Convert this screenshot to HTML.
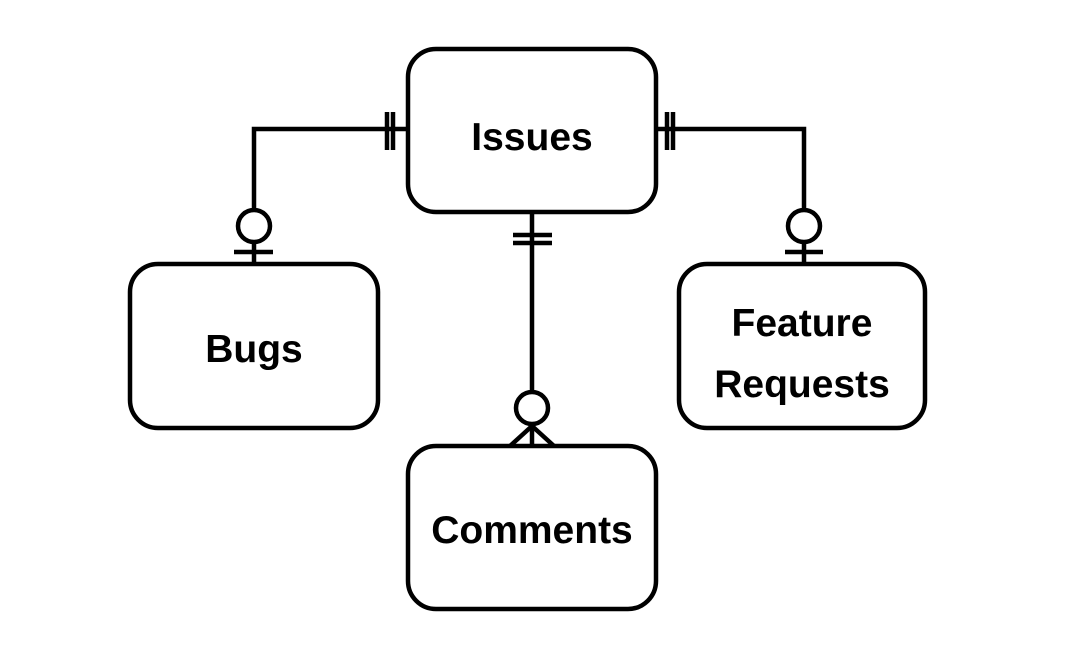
<!DOCTYPE html>
<html><head><meta charset="utf-8"><style>html,body{margin:0;padding:0;background:#fff}svg{display:block}</style></head>
<body>
<svg width="1084" height="667" viewBox="0 0 1084 667" xmlns="http://www.w3.org/2000/svg">
<g fill="none" stroke="#000" stroke-width="4.5">
<rect x="408" y="49" width="248" height="163" rx="28"/>
<rect x="130" y="264" width="248" height="164" rx="28"/>
<rect x="679" y="264" width="246" height="164" rx="28"/>
<rect x="408" y="446" width="248" height="163" rx="28"/>
<polyline points="408,129 254,129 254,209"/>
<line x1="387" y1="112" x2="387" y2="150"/>
<line x1="393" y1="112" x2="393" y2="150"/>
<circle cx="254" cy="226" r="16"/>
<line x1="254" y1="242" x2="254" y2="264"/>
<line x1="234" y1="252" x2="273" y2="252"/>
<polyline points="656,129 804,129 804,209"/>
<line x1="667" y1="112" x2="667" y2="150"/>
<line x1="673" y1="112" x2="673" y2="150"/>
<circle cx="804" cy="226" r="16"/>
<line x1="804" y1="242" x2="804" y2="264"/>
<line x1="785" y1="252" x2="823" y2="252"/>
<line x1="532" y1="212" x2="532" y2="392"/>
<line x1="513" y1="235" x2="552" y2="235"/>
<line x1="513" y1="243" x2="552" y2="243"/>
<circle cx="532" cy="408" r="16"/>
<line x1="532" y1="424" x2="532" y2="446"/>
<line x1="532" y1="426" x2="510" y2="446"/>
<line x1="532" y1="426" x2="554" y2="446"/>
</g>
<g font-family="Liberation Sans, sans-serif" font-size="39" font-weight="bold" text-anchor="middle" fill="#000">
<text x="532" y="150">Issues</text>
<text x="254" y="362">Bugs</text>
<text x="802" y="336">Feature</text>
<text x="802" y="397">Requests</text>
<text x="532" y="543">Comments</text>
</g>
</svg>
</body></html>
